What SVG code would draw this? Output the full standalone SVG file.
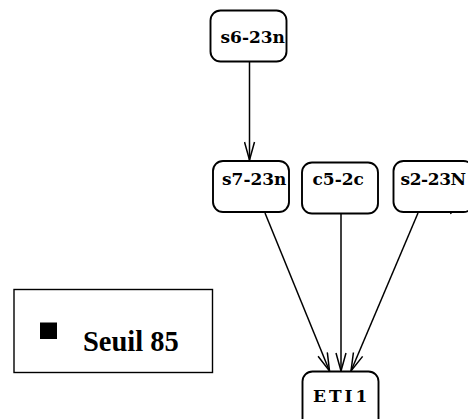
<svg xmlns="http://www.w3.org/2000/svg" width="468" height="419" viewBox="0 0 468 419">
<defs>
<style>
.node rect{fill:#fff;stroke:#000;stroke-width:1.9}
.node text{font-family:"DejaVu Serif","Liberation Serif",serif;font-weight:bold;font-size:17px;fill:#000}
.edge{stroke:#000;stroke-width:1.5;fill:none}
</style>
<marker id="arr" viewBox="0 0 20 12" refX="19" refY="6" markerWidth="20" markerHeight="12" markerUnits="userSpaceOnUse" orient="auto">
<path d="M1,1 L19,6 L1,11" fill="none" stroke="#000" stroke-width="1.5"/>
</marker>
</defs>
<rect width="468" height="419" fill="#fff"/>
<g id="connectors">
<line class="edge" x1="249.5" y1="62" x2="249.5" y2="160" marker-end="url(#arr)"/>
<line class="edge" x1="265" y1="213" x2="329.5" y2="371" marker-end="url(#arr)"/>
<line class="edge" x1="341" y1="214" x2="341" y2="371" marker-end="url(#arr)"/>
<line class="edge" x1="418" y1="213" x2="351" y2="371" marker-end="url(#arr)"/>
<line class="edge" x1="450" y1="209" x2="451" y2="214"/>
</g>
<g id="s6-23n" class="node">
<rect x="210.5" y="10.5" width="76" height="51" rx="10"/>
<text x="220.5" y="43">s6-23n</text>
</g>
<g id="s7-23n" class="node">
<rect x="213" y="161" width="76" height="51" rx="10"/>
<text x="222" y="185">s7-23n</text>
</g>
<g id="c5-2c" class="node">
<rect x="302" y="162.5" width="76" height="51" rx="10"/>
<text x="312.5" y="185">c5-2c</text>
</g>
<g id="s2-23N" class="node">
<rect x="393.5" y="161" width="80" height="51" rx="10"/>
<text x="400.5" y="185" style="letter-spacing:-0.4px">s2-23N</text>
</g>
<g id="ETI1" class="node">
<rect x="302.5" y="371.5" width="76" height="60" rx="10"/>
<text x="313" y="402" style="letter-spacing:3px">ETI1</text>
</g>
<g id="legend">
<rect x="14" y="289.5" width="198.5" height="83" fill="#fff" stroke="#000" stroke-width="1.4"/>
<rect x="40" y="322.5" width="17" height="16.5" fill="#000"/>
<text x="83" y="351" font-family="Liberation Serif, serif" font-weight="bold" font-size="28.5">Seuil 85</text>
</g>
</svg>
